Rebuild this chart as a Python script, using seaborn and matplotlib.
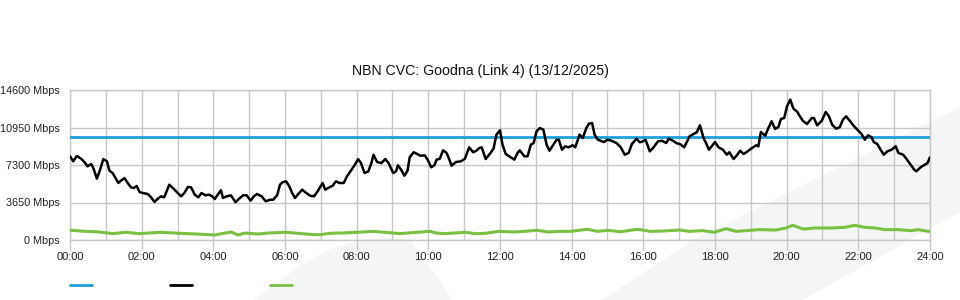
import matplotlib
matplotlib.use("Agg")
import matplotlib.pyplot as plt
from matplotlib.patches import Polygon
from matplotlib.lines import Line2D
import seaborn as sns
import pandas as pd

# ---------------- data ----------------
title = "NBN CVC: Goodna (Link 4) (13/12/2025)"
y_ticks = [0, 3650, 7300, 10950, 14600]
y_tick_labels = ["0 Mbps", "3650 Mbps", "7300 Mbps", "10950 Mbps", "14600 Mbps"]
x_ticks = [0, 2, 4, 6, 8, 10, 12, 14, 16, 18, 20, 22, 24]
x_tick_labels = ["00:00", "02:00", "04:00", "06:00", "08:00", "10:00", "12:00",
                 "14:00", "16:00", "18:00", "20:00", "22:00", "24:00"]

capacity_hours = [0, 24]
capacity_mbps = [10000, 10000]

traffic_hours = [
    0.00, 0.09, 0.19, 0.31, 0.40, 0.49, 0.59, 0.65, 0.75, 0.84, 0.93, 1.03, 1.10, 1.19, 1.27,
    1.35, 1.42, 1.52, 1.61, 1.70, 1.78, 1.86, 1.94, 2.03, 2.17, 2.26, 2.36, 2.45, 2.54, 2.63,
    2.77, 2.87, 2.99, 3.10, 3.19, 3.29, 3.38, 3.48, 3.58, 3.67, 3.78, 3.88, 3.97, 4.04, 4.14,
    4.21, 4.27, 4.37, 4.49, 4.62, 4.71, 4.83, 4.93, 5.04, 5.13, 5.22, 5.35, 5.46, 5.58, 5.67,
    5.78, 5.86, 5.93, 6.03, 6.12, 6.20, 6.28, 6.37, 6.48, 6.57, 6.70, 6.81, 6.91, 7.05, 7.12,
    7.24, 7.33, 7.42, 7.52, 7.64, 7.73, 7.84, 7.94, 8.04, 8.12, 8.22, 8.33, 8.41, 8.47, 8.57,
    8.69, 8.80, 8.89, 9.02, 9.10, 9.15, 9.24, 9.33, 9.42, 9.48, 9.59, 9.69, 9.78, 9.90, 9.98,
    10.08, 10.17, 10.23, 10.32, 10.41, 10.51, 10.58, 10.65, 10.77, 10.91, 11.02, 11.14, 11.25,
    11.34, 11.42, 11.49, 11.60, 11.72, 11.82, 11.90, 12.00, 12.07, 12.16, 12.30, 12.40, 12.49,
    12.55, 12.68, 12.77, 12.86, 12.94, 13.02, 13.11, 13.21, 13.30, 13.38, 13.49, 13.58, 13.64,
    13.73, 13.82, 13.91, 14.03, 14.10, 14.22, 14.31, 14.41, 14.48, 14.57, 14.64, 14.73, 14.90,
    15.00, 15.11, 15.25, 15.37, 15.48, 15.59, 15.68, 15.81, 15.90, 15.99, 16.06, 16.18, 16.27,
    16.41, 16.52, 16.64, 16.71, 16.83, 16.92, 17.04, 17.14, 17.29, 17.40, 17.49, 17.58, 17.68,
    17.75, 17.83, 17.93, 18.00, 18.10, 18.22, 18.33, 18.40, 18.52, 18.61, 18.70, 18.80, 18.91,
    19.03, 19.15, 19.21, 19.28, 19.40, 19.49, 19.58, 19.68, 19.77, 19.84, 19.93, 20.01, 20.10,
    20.19, 20.30, 20.34, 20.45, 20.57, 20.70, 20.76, 20.85, 20.98, 21.09, 21.18, 21.27, 21.38,
    21.48, 21.57, 21.66, 21.76, 21.88, 22.00, 22.09, 22.18, 22.27, 22.37, 22.43, 22.53, 22.62,
    22.71, 22.81, 22.93, 23.04, 23.12, 23.25, 23.34, 23.46, 23.56, 23.62, 23.74, 23.83, 23.93,
    24.00,
]
traffic_mbps = [
    8150, 7660, 8180, 7910, 7590, 7170, 7400, 7010, 5970, 6840, 7880, 7660, 6750, 6520, 6030,
    5550, 5770, 6030, 5550, 5130, 5060, 5260, 4670, 4570, 4480, 4160, 3700, 4020, 4250, 4160,
    5380, 5060, 4640, 4250, 4570, 5160, 5130, 4410, 4160, 4570, 4350, 4410, 4250, 3990, 4480,
    4840, 4090, 4250, 4350, 3670, 3990, 4350, 4350, 3830, 4250, 4480, 4250, 3770, 3920, 3920,
    4350, 5380, 5620, 5710, 5230, 4570, 4090, 4480, 4900, 4640, 4310, 4250, 4740, 5550, 4900,
    5130, 5280, 5710, 5550, 5550, 6200, 6750, 7270, 7880, 7490, 6520, 6690, 7490, 8300, 7590,
    7490, 7880, 7490, 6520, 6690, 7270, 6840, 6260, 6750, 8050, 8540, 8370, 8200, 8240, 7820,
    7080, 7270, 7820, 7910, 8730, 8470, 7880, 7230, 7590, 7660, 7910, 9020, 8540,
    8690, 8950, 9020, 7880, 8400, 8890, 10250, 10680, 9280, 8370, 8050, 7820, 8470,
    8730, 8150, 8150, 9280, 9440, 10580, 10900, 10740, 9280, 8690, 9280, 9760, 9760,
    8790, 9120, 9020, 9220, 9020, 10250, 9930, 10900, 11320, 11390, 10250, 9760, 9540,
    9760, 9660, 9440, 9020, 8300, 8470, 9340, 9860, 9510, 9610, 9760, 8630, 8950,
    9610, 9660, 9440, 9860, 9660, 9440, 9300, 9020, 10090, 10320, 10480, 11160, 9930,
    9440, 8790, 9220, 9540, 9020, 8790, 8300, 8540, 7880, 8240, 8690, 8370, 8630,
    8950, 9220, 9120, 10510, 10150, 10900, 11550, 10800, 11000, 11780, 11870, 13010, 13660,
    12780, 12460, 12200, 11610, 11290, 11870, 11870, 11160, 11610, 12460, 12040, 11220, 10830,
    10970, 11710, 12040, 11610, 11070, 10640, 10320, 9760, 10190, 10000, 9540, 9340, 8790,
    8300, 8630, 8790, 9120, 8470, 8300, 7910, 7330, 6840, 6690, 7080, 7270, 7490,
    8050,
]

other_hours = [
    0.00, 0.45, 0.82, 1.19, 1.56, 1.93, 2.54, 3.05, 3.29, 4.04, 4.50, 4.69, 4.88, 5.25, 5.53,
    6.04, 6.46, 6.81, 6.98, 7.26, 7.81, 8.47, 9.21, 9.68, 10.05, 10.21, 10.47, 11.03, 11.31,
    11.59, 11.96, 12.43, 13.03, 13.36, 13.62, 13.97, 14.44, 14.72, 15.00, 15.37, 15.83, 16.21,
    16.58, 17.02, 17.28, 17.66, 17.98, 18.31, 18.59, 18.87, 19.24, 19.70, 19.98, 20.17, 20.43,
    20.50, 20.78, 21.25, 21.62, 21.90, 22.18, 22.46, 22.74, 23.11, 23.48, 23.67, 23.95, 24.00,
]
other_mbps = [
    940, 840, 780, 620, 750, 620, 750, 650, 620, 490, 780, 490, 680, 580, 680,
    750, 620, 520, 520, 650, 710, 840, 620, 750, 840, 680, 620, 750, 620,
    650, 840, 780, 940, 780, 840, 840, 1040, 840, 940, 810, 1040, 840,
    880, 970, 840, 910, 750, 1100, 840, 910, 1010, 970, 1170, 1430, 1100,
    1070, 1170, 1170, 1230, 1430, 1230, 1170, 1010, 1010, 910, 1010, 840, 840,
]

BLUE = "#1ea0da"
BLACK = "#000000"
GREEN = "#7ac143"
GRID = "#c8c8c8"

# ---------------- style ----------------
sns.set_theme(style="white")
plt.rcParams["font.family"] = ["Liberation Sans", "DejaVu Sans"]

W, H = 960, 300
fig = plt.figure(figsize=(9.6, 3.0), dpi=100)
fig.patch.set_facecolor("white")

def fx(px):
    return px / W

def fy(py):
    return 1 - py / H

# faint background watermark shapes
band = [(602, 300), (693, 240), (960, 107), (960, 212), (910, 240), (802, 300)]
blob = [(253, 300), (275, 284), (300, 266), (330, 249), (360, 240), (390, 238),
        (410, 240), (420, 255), (440, 280), (452, 300)]
for shape in (band, blob):
    fig.patches.append(Polygon([(fx(a), fy(b)) for a, b in shape], closed=True,
                               transform=fig.transFigure, facecolor="#f4f5f7",
                               edgecolor="none", zorder=-5))

ax = fig.add_axes([fx(70), fy(240), fx(930) - fx(70), fy(90) - fy(240)])
ax.set_facecolor("none")
ax.set_zorder(2)

cap_df = pd.DataFrame({"hour": capacity_hours, "mbps": capacity_mbps})
tr_df = pd.DataFrame({"hour": traffic_hours, "mbps": traffic_mbps})
ot_df = pd.DataFrame({"hour": other_hours, "mbps": other_mbps})

sns.lineplot(data=ot_df, x="hour", y="mbps", ax=ax, color=GREEN, lw=2.2,
             estimator=None, sort=False, zorder=3)
sns.lineplot(data=cap_df, x="hour", y="mbps", ax=ax, color=BLUE, lw=2.0,
             estimator=None, sort=False, zorder=4)
sns.lineplot(data=tr_df, x="hour", y="mbps", ax=ax, color=BLACK, lw=1.8,
             estimator=None, sort=False, zorder=5)

ax.set_xlim(0, 24)
ax.set_ylim(0, 14600)
ax.set_xticks(x_ticks)
ax.set_xticklabels(x_tick_labels)
ax.set_xticks(range(0, 25), minor=True)
ax.set_yticks(y_ticks)
ax.set_yticklabels(y_tick_labels)
ax.set_xlabel("")
ax.set_ylabel("")

ax.grid(True, which="both", axis="x", color=GRID, lw=1.0, zorder=1)
ax.grid(True, which="major", axis="y", color=GRID, lw=1.0, zorder=1)
ax.set_axisbelow(True)
for s in ax.spines.values():
    s.set_color(GRID)
    s.set_linewidth(1.0)

ax.tick_params(axis="x", which="major", length=7.5, width=1.0, color=GRID,
               labelsize=8, labelcolor="#222222", pad=1.5, bottom=True)
ax.tick_params(axis="x", which="minor", length=0)
ax.tick_params(axis="y", which="major", length=0, labelsize=7.8,
               labelcolor="#222222", pad=7.5, left=False)

fig.text(0.5, fy(71), title, ha="center", va="center", fontsize=10.2, color="#111111")

# legend swatches (no labels in the original)
for x0, col in ((70, BLUE), (170, BLACK), (270, GREEN)):
    fig.add_artist(Line2D([fx(x0), fx(x0 + 22)], [fy(285), fy(285)],
                          transform=fig.transFigure, color=col, lw=2.0))

fig.savefig("out.png", dpi=100, facecolor="white")
